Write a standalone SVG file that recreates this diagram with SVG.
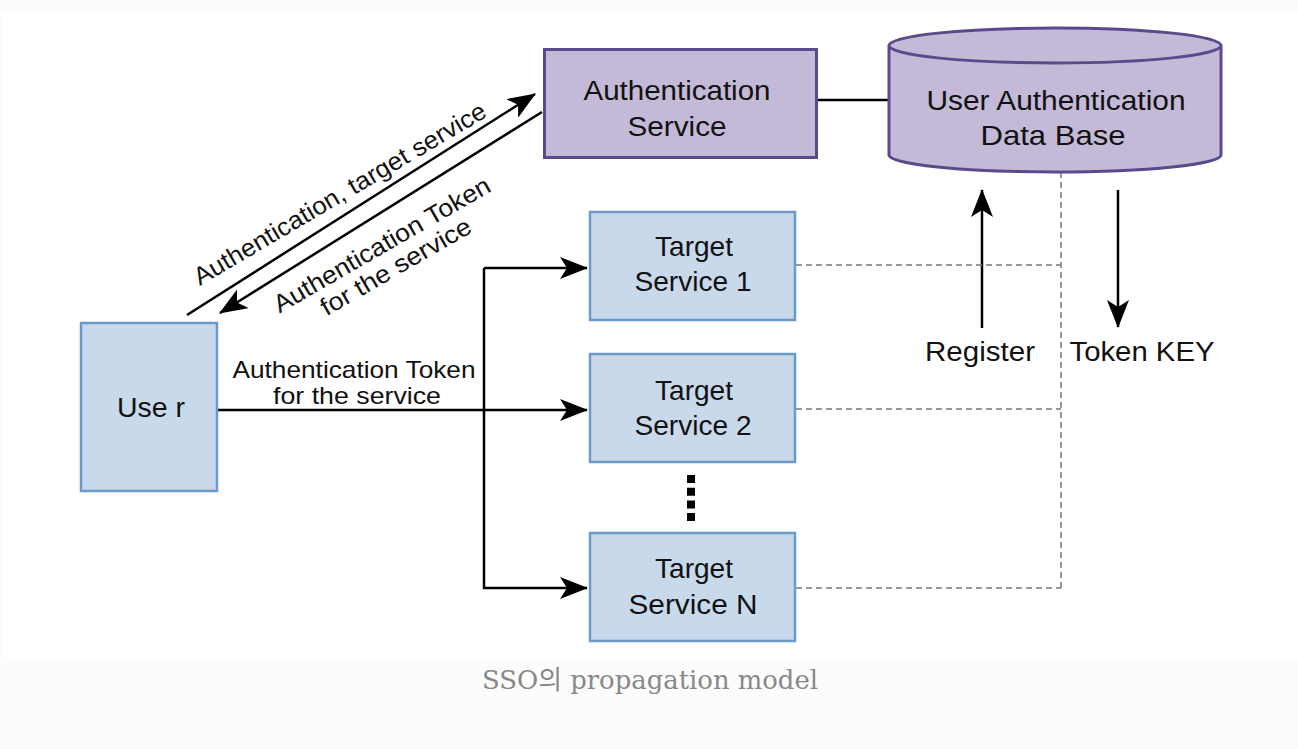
<svg xmlns="http://www.w3.org/2000/svg" width="1298" height="749" viewBox="0 0 1298 749">
<style>
.lbl{font-family:"Liberation Sans",Arial,sans-serif;fill:#111;text-anchor:middle}
.n{font-size:27.5px}
.e{font-size:25px}
.purple{fill:#c4bad8;stroke:#5b4a8b;stroke-width:3}
.blue{fill:#c8d9ec;stroke:#6b9ac7;stroke-width:2.5}
.ln{fill:none;stroke:#000;stroke-width:2.5}
.dash{fill:none;stroke:#777;stroke-width:1.5;stroke-dasharray:6 4}
</style>
<defs>
<marker id="arr" viewBox="0 0 28 22" refX="27" refY="11" markerWidth="28" markerHeight="22" markerUnits="userSpaceOnUse" orient="auto">
<path d="M0,0 L28,11 L0,22 L7,11 Z" fill="#000"/>
</marker>
</defs>
<rect x="0" y="0" width="1298" height="749" fill="#fcfcfc"/>
<rect x="2" y="12" width="1296" height="646" fill="#fff"/>

<g id="connectors">
<line class="ln" x1="817" y1="100" x2="889" y2="100"/>
<line class="ln" x1="187" y1="315" x2="535" y2="94" marker-end="url(#arr)"/>
<line class="ln" x1="542" y1="112" x2="220" y2="313" marker-end="url(#arr)"/>
<line class="ln" x1="217" y1="410" x2="587" y2="410" marker-end="url(#arr)"/>
<polyline class="ln" points="484,268 484,588 587,588" marker-end="url(#arr)"/>
<line class="ln" x1="484" y1="268" x2="587" y2="268" marker-end="url(#arr)"/>
<line class="ln" x1="982" y1="328" x2="982" y2="190" marker-end="url(#arr)"/>
<line class="ln" x1="1118" y1="190" x2="1118" y2="327" marker-end="url(#arr)"/>
<path class="dash" d="M796,265 H1061 M796,409 H1061 M796,588 H1061 M1061,172 V588"/>
<line x1="691" y1="475" x2="691" y2="521" stroke="#000" stroke-width="8" stroke-dasharray="8 4.7"/>
<text class="lbl e" transform="translate(344,201) rotate(-30.5)" textLength="335" lengthAdjust="spacingAndGlyphs">Authentication, target service</text>
<text class="lbl e" transform="translate(386,252) rotate(-30)" textLength="246" lengthAdjust="spacingAndGlyphs">Authentication Token</text>
<text class="lbl e" transform="translate(400,274) rotate(-30)" textLength="170" lengthAdjust="spacingAndGlyphs">for the service</text>
<text class="lbl" style="font-size:24px" x="354" y="378" textLength="243" lengthAdjust="spacingAndGlyphs">Authentication Token</text>
<text class="lbl" style="font-size:24px" x="357" y="404" textLength="168" lengthAdjust="spacingAndGlyphs">for the service</text>
<text class="lbl n" x="980" y="361" textLength="110" lengthAdjust="spacingAndGlyphs">Register</text>
<text class="lbl n" x="1142" y="361" textLength="145" lengthAdjust="spacingAndGlyphs">Token KEY</text>
</g>

<g id="auth-service">
<rect class="purple" x="544.5" y="49.5" width="272" height="108"/>
<text class="lbl n" x="677" y="100" textLength="187" lengthAdjust="spacingAndGlyphs">Authentication</text>
<text class="lbl n" x="677" y="136" textLength="99" lengthAdjust="spacingAndGlyphs">Service</text>
</g>

<g id="user-db">
<path class="purple" d="M889,45.5 V155 A166,17 0 0 0 1221,155 V45.5 A166,17.5 0 0 0 889,45.5 Z"/>
<path fill="none" stroke="#5b4a8b" stroke-width="3" d="M889,45.5 A166,17.5 0 0 0 1221,45.5"/>
<text class="lbl n" x="1056" y="110" textLength="259" lengthAdjust="spacingAndGlyphs">User Authentication</text>
<text class="lbl n" x="1053" y="145" textLength="145" lengthAdjust="spacingAndGlyphs">Data Base</text>
</g>

<g id="user">
<rect class="blue" x="81" y="323" width="136" height="168"/>
<text class="lbl n" x="151" y="417" textLength="68" lengthAdjust="spacingAndGlyphs">Use r</text>
</g>

<g id="target-1">
<rect class="blue" x="590" y="212" width="205" height="108"/>
<text class="lbl n" x="694" y="256" textLength="78" lengthAdjust="spacingAndGlyphs">Target</text>
<text class="lbl n" x="693" y="291" textLength="117" lengthAdjust="spacingAndGlyphs">Service 1</text>
</g>

<g id="target-2">
<rect class="blue" x="590" y="354" width="205" height="108"/>
<text class="lbl n" x="694" y="400" textLength="78" lengthAdjust="spacingAndGlyphs">Target</text>
<text class="lbl n" x="693" y="435" textLength="117" lengthAdjust="spacingAndGlyphs">Service 2</text>
</g>

<g id="target-n">
<rect class="blue" x="590" y="533" width="205" height="108"/>
<text class="lbl n" x="694" y="578" textLength="78" lengthAdjust="spacingAndGlyphs">Target</text>
<text class="lbl n" x="693" y="614" textLength="129" lengthAdjust="spacingAndGlyphs">Service N</text>
</g>

<text x="650" y="689" text-anchor="middle" style="font-family:'DejaVu Serif','Noto Sans CJK KR',serif;font-size:26px;fill:#888" textLength="336" lengthAdjust="spacingAndGlyphs">SSO의 propagation model</text>
</svg>
